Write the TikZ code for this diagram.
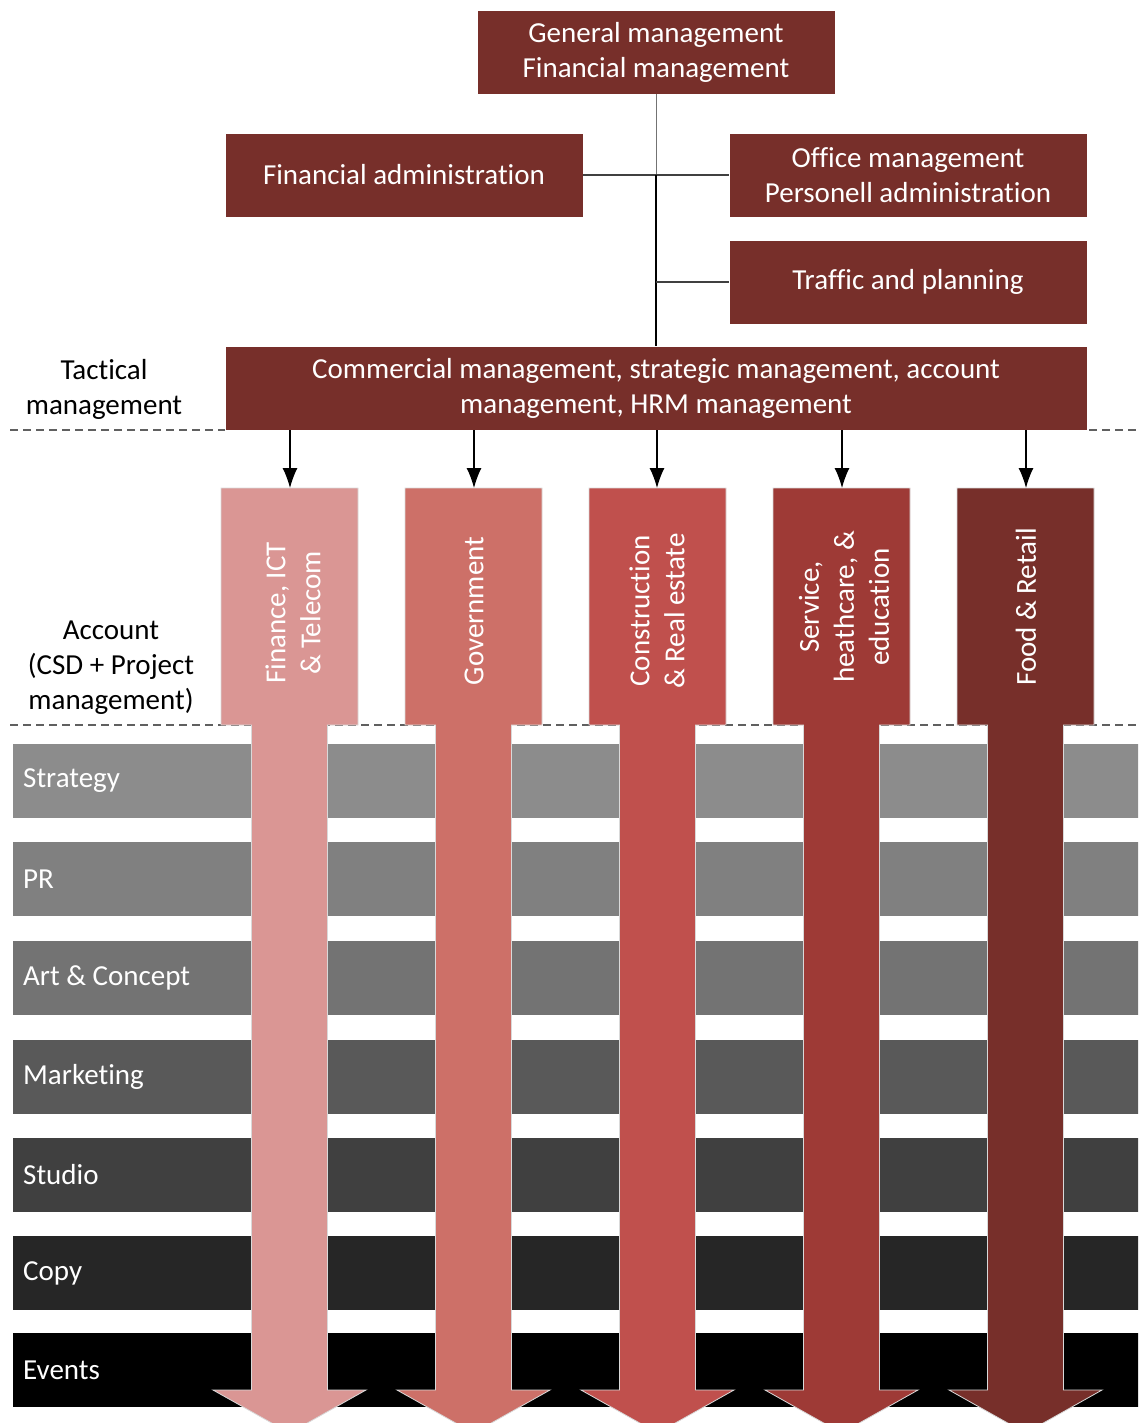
\documentclass[tikz,border=0pt]{standalone}
\usepackage{fontspec}
\setmainfont{Carlito}[Ligatures={NoCommon}]
\usetikzlibrary{arrows.meta}

\definecolor{boxred}{HTML}{772F2A}
\definecolor{colA}{HTML}{DA9694}
\definecolor{colB}{HTML}{CD7068}
\definecolor{colC}{HTML}{C0504D}
\definecolor{colD}{HTML}{9E3A36}
\definecolor{colE}{HTML}{772F2A}
\definecolor{gA}{HTML}{8C8C8C}
\definecolor{gB}{HTML}{808080}
\definecolor{gC}{HTML}{737373}
\definecolor{gD}{HTML}{595959}
\definecolor{gE}{HTML}{404040}
\definecolor{gF}{HTML}{262626}
\definecolor{gG}{HTML}{000000}
\definecolor{dashgrey}{HTML}{606060}

\tikzset{
  txt/.style={font=\fontsize{29}{35}\selectfont},
  orgbox/.style={txt, fill=boxred, draw=white, line width=0.6pt, text=white,
    align=center, inner sep=0pt, minimum height=84pt},
  sidelabel/.style={txt, text=black, align=center},
  levelline/.style={dashgrey, dashed, dash pattern=on 8pt off 5pt, line width=1.2pt},
  treeline/.style={line width=1.2pt, draw=black!75},
  feed/.style={line width=1.2pt, draw=black, -{Latex[length=20pt,width=15pt]}},
  bandlabel/.style={txt, text=white, anchor=west, inner sep=0pt},
  coltext/.style={txt, text=white, align=center, rotate=90},
  colarrow/.style={draw=white!85!black, line width=0.8pt}
}

\newcommand{\sectorarrow}[2]{%
  \fill[#2, colarrow]
    (#1-68.5,488) -- (#1+68.5,488) -- (#1+68.5,725) -- (#1+38,725) --
    (#1+38,1390) -- (#1+76.5,1390) -- (#1,1433) -- (#1-76.5,1390) --
    (#1-38,1390) -- (#1-38,725) -- (#1-68.5,725) -- cycle;}

\begin{document}
\begin{tikzpicture}[x=1pt,y=-1pt]
  \useasboundingbox (0,0) rectangle (1138,1423);
  \clip (0,0) rectangle (1138,1423);

  % level separators
  \draw[levelline] (10,430) -- (1138,430);
  \draw[levelline] (10,725) -- (1138,725);

  % department bands
  \foreach \y/\c/\t in {744/gA/Strategy, 842/gB/PR, 941/gC/Art \& Concept,
      1040/gD/Marketing, 1138/gE/Studio, 1236/gF/Copy, 1333/gG/Events}{
    \fill[\c] (13,\y) rectangle (1140,\y+74);
    \node[bandlabel] at (23,\y+37) {\t};
  }

  % management structure
  \node[orgbox, minimum width=358pt] (gm) at (656,52)
    {General management\\Financial management};
  \node[orgbox, minimum width=358pt] (fa) at (404,175) {Financial administration};
  \node[orgbox, minimum width=358pt] (om) at (908,175)
    {Office management\\Personell administration};
  \node[orgbox, minimum width=358pt] (tp) at (908,282) {Traffic and planning};
  \node[orgbox, minimum width=862pt] (cm) at (656,388)
    {Commercial management, strategic management, account\\management, HRM management};

  \coordinate (j1) at (gm.south |- fa.east);
  \coordinate (j2) at (gm.south |- tp.west);
  \draw[line width=1pt, draw=black!55] (gm.south) -- (j1);
  \draw[treeline] (fa.east) -- (om.west);
  \draw[line width=1.6pt] (j1) -- (gm.south |- cm.north);
  \draw[treeline] (j2) -- (tp.west);

  % level labels
  \node[sidelabel] (tac) at (104,389) {Tactical\\management};
  \node[sidelabel] (acc) at (111,668) {Account\\(CSD + Project\\management)};

  % sector arrows
  \sectorarrow{289.5}{colA}
  \sectorarrow{473.5}{colB}
  \sectorarrow{657.5}{colC}
  \sectorarrow{841.5}{colD}
  \sectorarrow{1025.5}{colE}

  \node[coltext] (s1) at (293,613) {Finance, ICT\\\& Telecom};
  \node[coltext] (s2) at (474,611) {Government};
  \node[coltext] (s3) at (657,611) {Construction\\\& Real estate};
  \node[coltext] (s4) at (844,607) {Service,\\heathcare, \&\\education};
  \node[coltext] (s5) at (1026,607) {Food \& Retail};

  \coordinate (t1) at (290,488);
  \coordinate (t2) at (474,488);
  \coordinate (t3) at (657,488);
  \coordinate (t4) at (842,488);
  \coordinate (t5) at (1026,488);
  \foreach \i in {1,...,5}{
    \draw[feed] (t\i |- cm.south) -- (t\i);
  }
\end{tikzpicture}
\end{document}
